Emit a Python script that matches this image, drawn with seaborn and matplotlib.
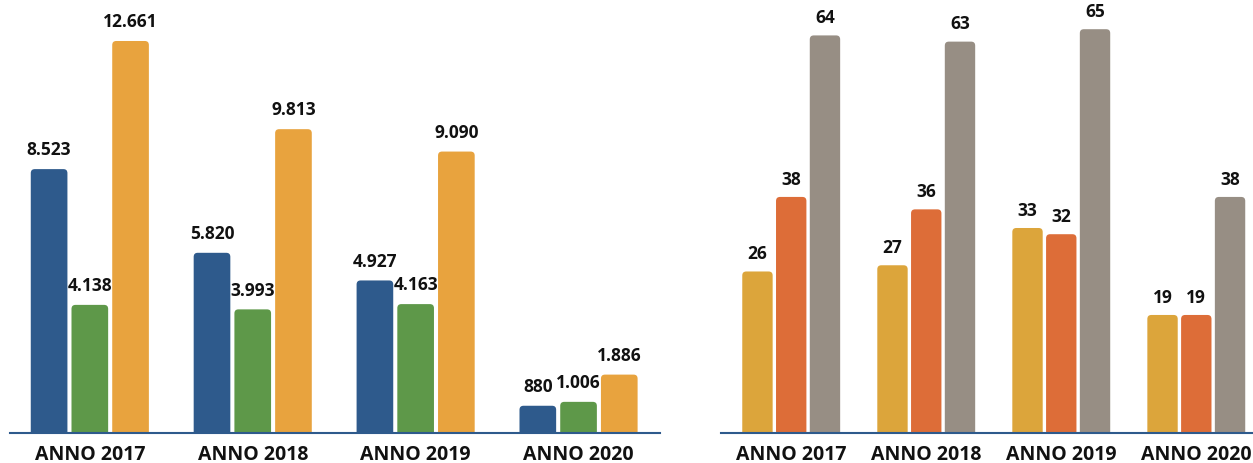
import pandas as pd
import numpy as np
import matplotlib
matplotlib.use("Agg")
import matplotlib.pyplot as plt
from matplotlib.patches import FancyBboxPatch
import seaborn as sns

# Data
years = ["ANNO 2017", "ANNO 2018", "ANNO 2019", "ANNO 2020"]

left_series = ["Serie 1", "Serie 2", "Serie 3"]
left_s1 = [8523, 5820, 4927, 880]
left_s2 = [4138, 3993, 4163, 1006]
left_s3 = [12661, 9813, 9090, 1886]
left_colors = ["#2E5A8C", "#5E9849", "#E8A33E"]

right_series = ["Serie A", "Serie B", "Serie C"]
right_s1 = [26, 27, 33, 19]
right_s2 = [38, 36, 32, 19]
right_s3 = [64, 63, 65, 38]
right_colors = ["#DCA53B", "#DD6D38", "#978E84"]

sns.set_theme(style="white")
plt.rcParams['font.family'] = ['Open Sans', 'DejaVu Sans']


def long_df(series, vals):
    rows = []
    for name, v in zip(series, vals):
        for y, val in zip(years, v):
            rows.append({"anno": y, "serie": name, "valore": val})
    return pd.DataFrame(rows)


def fmt(v):
    return f"{v:,}".replace(",", ".")


def round_tops(ax, radius_px=4):
    fig = ax.figure
    fig.canvas.draw()
    p0 = ax.transData.transform((0, 0))
    p1 = ax.transData.transform((1, 1))
    x_per_px = 1 / (p1[0] - p0[0])
    y_per_px = 1 / (p1[1] - p0[1])
    aspect = y_per_px / x_per_px
    rx = radius_px * x_per_px
    ry = radius_px * y_per_px
    for p in list(ax.patches):
        x, y = p.get_x(), p.get_y()
        w, h = p.get_width(), p.get_height()
        fc = p.get_facecolor()
        p.remove()
        nb = FancyBboxPatch((x, y - ry), w, h + ry,
                            boxstyle=f"round,pad=0,rounding_size={rx}",
                            mutation_aspect=aspect,
                            facecolor=fc, edgecolor="none")
        ax.add_patch(nb)


def panel(ax, series, vals, colors, ymax, label_pad):
    df = long_df(series, vals)
    sns.barplot(data=df, x="anno", y="valore", hue="serie", palette=colors,
                width=0.75, gap=0.1, ax=ax, legend=False, saturation=1)
    for c in ax.containers:
        ax.bar_label(c, labels=[fmt(int(v)) for v in c.datavalues],
                     padding=label_pad, fontsize=12.5, fontweight="bold",
                     color="#111111")
    ax.set_ylim(0, ymax)
    ax.set_xlabel("")
    ax.set_ylabel("")
    ax.set_yticks([])
    for s in ["top", "left", "right"]:
        ax.spines[s].set_visible(False)
    ax.spines["bottom"].set_color("#2E5A8C")
    ax.spines["bottom"].set_linewidth(1.5)
    ax.tick_params(axis="x", length=0, pad=9, labelsize=14)
    for t in ax.get_xticklabels():
        t.set_fontweight("bold")
        t.set_color("#111111")


fig = plt.figure(figsize=(12.53, 4.63), dpi=100)
W, H = 1253, 463
ax1 = fig.add_axes([10 / W, 30 / H, 650 / W, 433 / H])
ax2 = fig.add_axes([721 / W, 30 / H, 532 / W, 433 / H])

panel(ax1, left_series, [left_s1, left_s2, left_s3], left_colors, 13985, 7)
ax1.set_xlim(-0.49, 3.50)
panel(ax2, right_series, [right_s1, right_s2, right_s3], right_colors, 69.7, 6)
ax2.set_xlim(-0.52, 3.42)

round_tops(ax1)
round_tops(ax2)

fig.savefig("out.png", dpi=100)
